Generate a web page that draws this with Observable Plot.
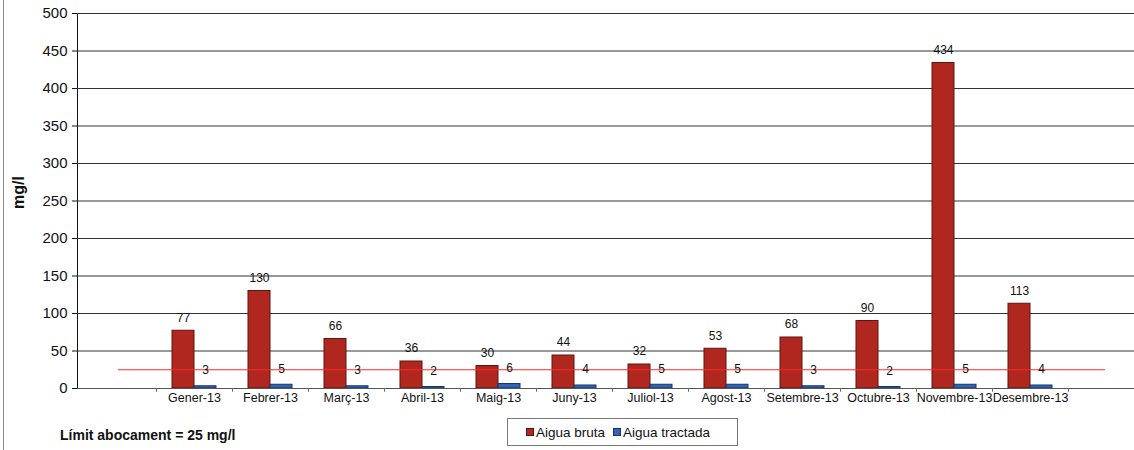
<!DOCTYPE html>
<html>
<head>
<meta charset="utf-8">
<script src="https://cdn.jsdelivr.net/npm/d3@7"></script>
<script src="https://cdn.jsdelivr.net/npm/@observablehq/plot@0.6"></script>
<style>
  html, body { margin: 0; padding: 0; background: #fff; }
  #wrap { position: relative; width: 1134px; height: 450px; font-family: "Liberation Sans", Arial, sans-serif; overflow: hidden; }
  #wrap svg { display: block; }
  #edge { position: absolute; left: 3px; top: 0; width: 1px; height: 450px; background: #8a8a8a; }
  #foot { position: relative; height: 38px; }
  #note { position: absolute; left: 60px; top: 15px; font-size: 14px; font-weight: bold; color: #111; }
  #legend { position: absolute; left: 507px; top: 6px; width: 231px; height: 28px; border: 1px solid #777; box-sizing: border-box; display: flex; align-items: center; font-size: 13.5px; color: #111; }
  .key { display: inline-flex; align-items: center; margin-left: 18px; }
  .key + .key { margin-left: 8px; }
  .sw { width: 8px; height: 8px; margin-right: 2px; box-sizing: border-box; }
</style>
</head>
<body>
<div id="wrap">
  <div id="chart"></div>
  <div id="foot">
    <div id="note">Límit abocament = 25 mg/l</div>
    <div id="legend"></div>
  </div>
  <div id="edge"></div>
</div>
<script>
// Monthly concentrations (mg/l), 2013
const months = ["Gener-13", "Febrer-13", "Març-13", "Abril-13", "Maig-13", "Juny-13",
  "Juliol-13", "Agost-13", "Setembre-13", "Octubre-13", "Novembre-13", "Desembre-13"];
const brutaValues = [77, 130, 66, 36, 30, 44, 32, 53, 68, 90, 434, 113];
const tractadaValues = [3, 5, 3, 2, 6, 4, 5, 5, 3, 2, 5, 4];
const seriesNames = ["Aigua bruta", "Aigua tractada"];
const seriesColors = ["#b0271f", "#2f63b6"];
const seriesStrokes = ["#5c150f", "#1b3563"];
const yTicks = [0, 50, 100, 150, 200, 250, 300, 350, 400, 450, 500];
const limitValue = 25;

const rows = months.map((m, i) => ({month: m, bruta: brutaValues[i], tractada: tractadaValues[i]}));

const chart = Plot.plot({
  width: 1134,
  height: 412,
  marginLeft: 77,
  marginRight: 0,
  marginTop: 13,
  marginBottom: 24,
  style: {fontFamily: "Liberation Sans, Arial, sans-serif", fontSize: "15px", color: "#111", background: "white"},
  x: {type: "band", domain: months, range: [155, 1068], padding: 0, axis: null},
  y: {type: "linear", domain: [0, 500], ticks: yTicks, tickSize: 5, tickPadding: 5, line: true, label: null},
  marks: [
    // horizontal gridlines
    Plot.ruleY(yTicks.filter(v => v > 0), {stroke: "#333", strokeWidth: 1}),
    // raw water
    Plot.barY(rows, {x: "month", y: "bruta", fill: seriesColors[0], stroke: seriesStrokes[0], strokeWidth: 1,
      insetLeft: 16, insetRight: 38}),
    // treated water
    Plot.barY(rows, {x: "month", y: "tractada", fill: seriesColors[1], stroke: seriesStrokes[1], strokeWidth: 1,
      insetLeft: 38, insetRight: 16}),
    // discharge limit
    Plot.ruleY([limitValue], {stroke: "#ff2a2a", strokeWidth: 1, insetLeft: 41, insetRight: 29}),
    // baseline
    Plot.ruleY([0], {stroke: "#555", strokeWidth: 1.2}),
    // category separators on the baseline
    Plot.ruleX(months, {x: d => d, dx: -38, y1: 0, y2: -5, stroke: "#666", strokeWidth: 1}),
    Plot.ruleX([months[months.length - 1]], {x: d => d, dx: 38, y1: 0, y2: -5, stroke: "#666", strokeWidth: 1}),
    // value labels
    Plot.text(rows, {x: "month", y: "bruta", text: d => String(d.bruta), dx: -11, dy: -13, fontSize: 12, fill: "#111"}),
    Plot.text(rows, {x: "month", y: "tractada", text: d => String(d.tractada), dx: 11, dy: -16, fontSize: 12, fill: "#111"}),
    // month labels
    Plot.text(months, {x: d => d, frameAnchor: "bottom", dy: 13, fontSize: 12.5, fill: "#111"}),
    // y axis title
    Plot.text(["mg/l"], {frameAnchor: "left", dx: -59, dy: 8, rotate: -90, fontSize: 16, fontWeight: "bold", fill: "#111"})
  ]
});
document.getElementById("chart").appendChild(chart);

// legend
const legend = document.getElementById("legend");
seriesNames.forEach((name, i) => {
  const key = document.createElement("span");
  key.className = "key";
  const sw = document.createElement("span");
  sw.className = "sw";
  sw.style.background = seriesColors[i];
  sw.style.border = "1px solid " + seriesStrokes[i];
  key.appendChild(sw);
  key.appendChild(document.createTextNode(name));
  legend.appendChild(key);
});
</script>
</body>
</html>
